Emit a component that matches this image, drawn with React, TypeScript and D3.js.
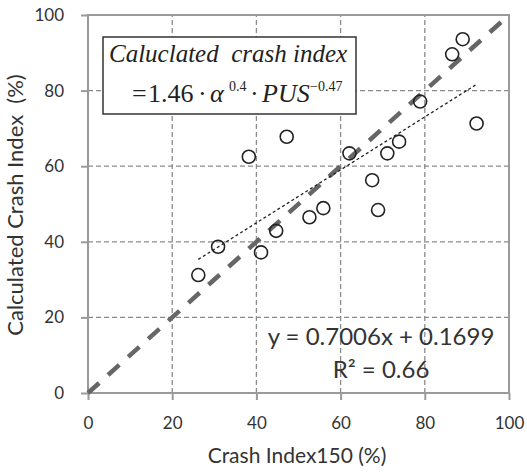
import { useEffect, useRef } from "react";
import * as d3 from "d3";

// observed crash index (x) vs. calculated crash index (y), in %
const crashIndex150 = [89.0, 86.5, 78.9, 92.3, 47.2, 38.2, 62.1, 73.9, 71.1, 67.5, 55.9, 52.6, 68.9, 44.7, 30.9, 41.1, 26.2];
const calculatedIndex = [93.6, 89.6, 77.1, 71.3, 67.8, 62.5, 63.4, 66.5, 63.4, 56.3, 48.9, 46.5, 48.4, 42.9, 38.7, 37.2, 31.2];
const ticks = [0, 20, 40, 60, 80, 100];
const slope = 0.7006;
const intercept = 0.1699;
const rSquared = 0.66;

const width = 527;
const height = 474;
const marginLeft = 88;
const marginRight = 18;
const marginTop = 15;
const marginBottom = 81;

export default function App() {
  const ref = useRef<SVGSVGElement>(null);

  useEffect(() => {
    const svg = d3.select(ref.current);
    svg.selectAll("*").remove();

    const x = d3.scaleLinear().domain([0, 100]).range([marginLeft, width - marginRight]);
    const y = d3.scaleLinear().domain([0, 100]).range([height - marginBottom, marginTop]);
    const sans = "Lato, 'Open Sans', Arial, sans-serif";
    const serif = "'Liberation Serif', 'Times New Roman', serif";

    // grid
    const inner = ticks.slice(1, -1);
    svg
      .append("g")
      .selectAll("line")
      .data(inner)
      .join("line")
      .attr("x1", (d) => x(d))
      .attr("x2", (d) => x(d))
      .attr("y1", y(0))
      .attr("y2", y(100))
      .attr("stroke", "#8a8a8a")
      .attr("stroke-width", 1.3)
      .attr("stroke-dasharray", "5,3");
    svg
      .append("g")
      .selectAll("line")
      .data(inner)
      .join("line")
      .attr("x1", x(0))
      .attr("x2", x(100))
      .attr("y1", (d) => y(d))
      .attr("y2", (d) => y(d))
      .attr("stroke", "#8a8a8a")
      .attr("stroke-width", 1.3)
      .attr("stroke-dasharray", "5,3");

    // frame
    svg
      .append("rect")
      .attr("x", x(0))
      .attr("y", y(100))
      .attr("width", x(100) - x(0))
      .attr("height", y(0) - y(100))
      .attr("fill", "none")
      .attr("stroke", "#9a9a9a")
      .attr("stroke-width", 2);

    // axes
    const xAxis = svg
      .append("g")
      .attr("transform", `translate(0,${y(0)})`)
      .call(d3.axisBottom(x).tickValues(ticks).tickSize(7).tickPadding(17));
    const yAxis = svg
      .append("g")
      .attr("transform", `translate(${x(0)},0)`)
      .call(d3.axisLeft(y).tickValues(ticks).tickSize(7).tickPadding(17));
    [xAxis, yAxis].forEach((g) => {
      g.select(".domain").remove();
      g.selectAll("line").attr("stroke", "#9a9a9a").attr("stroke-width", 2);
      g.selectAll("text").attr("fill", "#333").style("font-family", sans).style("font-size", "17px");
    });

    // 1:1 line
    svg
      .append("line")
      .attr("x1", x(0))
      .attr("y1", y(0))
      .attr("x2", x(100))
      .attr("y2", y(100))
      .attr("stroke", "#666")
      .attr("stroke-width", 4.5)
      .attr("stroke-dasharray", "15,12");

    // linear fit over the data range
    const [xmin, xmax] = d3.extent(crashIndex150) as [number, number];
    const fit = (v: number) => slope * v + intercept * 100;
    svg
      .append("line")
      .attr("x1", x(xmin))
      .attr("y1", y(fit(xmin)))
      .attr("x2", x(xmax))
      .attr("y2", y(fit(xmax)))
      .attr("stroke", "#222")
      .attr("stroke-width", 1.3)
      .attr("stroke-dasharray", "3,2.5");

    // points
    svg
      .append("g")
      .selectAll("circle")
      .data(crashIndex150)
      .join("circle")
      .attr("cx", (d) => x(d))
      .attr("cy", (_, i) => y(calculatedIndex[i]))
      .attr("r", 6.5)
      .attr("fill", "none")
      .attr("stroke", "#222")
      .attr("stroke-width", 1.6);

    // regression text
    const eq = svg
      .append("text")
      .attr("text-anchor", "middle")
      .attr("fill", "#333")
      .style("font-family", sans)
      .style("font-size", "24px");
    eq.append("tspan").attr("x", 381).attr("y", 345).text(`y = ${slope}x + ${intercept}`);
    eq.append("tspan").attr("x", 381).attr("y", 378).text(`R² = ${rSquared}`);

    // formula box
    svg
      .append("rect")
      .attr("x", 103)
      .attr("y", 37)
      .attr("width", 253)
      .attr("height", 77)
      .attr("fill", "#fff")
      .attr("stroke", "#333")
      .attr("stroke-width", 1.5);
    svg
      .append("text")
      .attr("x", 109)
      .attr("y", 62)
      .attr("fill", "#222")
      .style("font-family", serif)
      .style("font-style", "italic")
      .style("font-size", "25px")
      .attr("xml:space", "preserve")
      .text("Caluclated  crash index");
    const f = svg
      .append("text")
      .attr("fill", "#222")
      .style("font-family", serif)
      .style("font-size", "26px");
    const part = (s: string, x0: number, italic = false) =>
      f
        .append("tspan")
        .attr("x", x0)
        .attr("y", 102)
        .style("font-style", italic ? "italic" : "normal")
        .text(s);
    const sup = (s: string, x0: number) =>
      f.append("tspan").attr("x", x0).attr("y", 91).style("font-size", "14px").text(s);
    part("=", 132);
    part("1.46", 148);
    part("·", 198);
    part("α", 210, true);
    sup("0.4", 229);
    part("·", 250);
    part("PUS", 262, true);
    sup("−0.47", 310);

    // axis titles
    svg
      .append("text")
      .attr("x", 297)
      .attr("y", 463)
      .attr("text-anchor", "middle")
      .attr("fill", "#333")
      .style("font-family", sans)
      .style("font-size", "21px")
      .text("Crash Index150 (%)");
    svg
      .append("text")
      .attr("transform", `translate(23,205) rotate(-90)`)
      .attr("text-anchor", "middle")
      .attr("fill", "#333")
      .attr("xml:space", "preserve")
      .style("font-family", sans)
      .style("font-size", "22px")
      .text("Calculated Crash Index  (%)");
  }, []);

  return (
    <svg
      ref={ref}
      width={width}
      height={height}
      style={{ position: "absolute", left: 0, top: 0, background: "#fff" }}
    />
  );
}
